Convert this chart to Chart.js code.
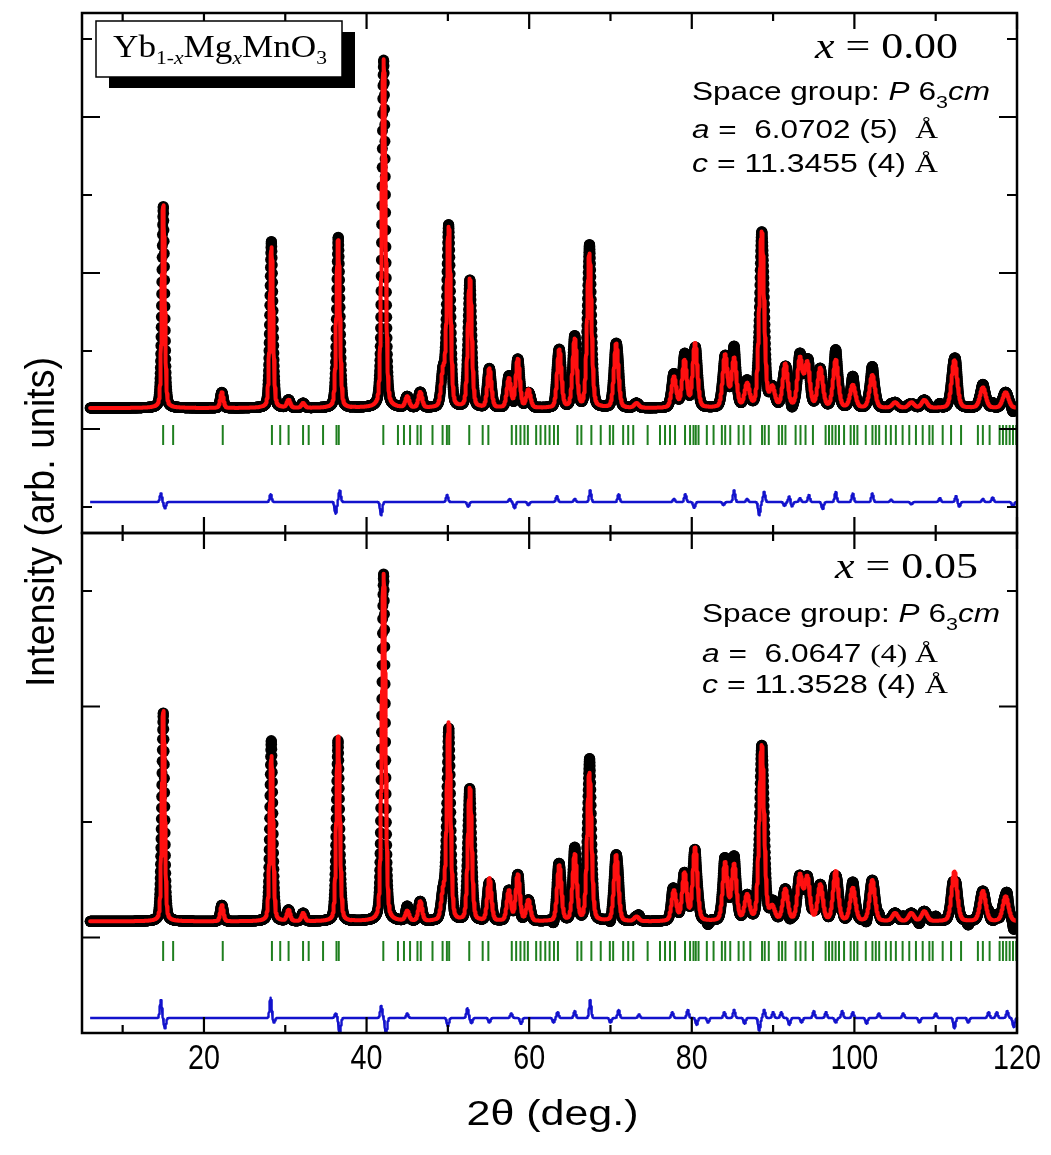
<!DOCTYPE html>
<html>
<head>
<meta charset="utf-8">
<title>Yb1-xMgxMnO3 Rietveld</title>
<script src="https://cdn.jsdelivr.net/npm/chart.js@4.4.1/dist/chart.umd.min.js"></script>
<style>
    html, body { margin: 0; padding: 0; background: #fff; }
    #wrap { position: relative; width: 1051px; height: 1155px; overflow: hidden; }
    #wrap canvas { position: absolute; left: 0; top: 0; }
</style>
</head>
<body>
<div id="wrap">
    <canvas id="panelTop" width="1051" height="1155"></canvas>
    <canvas id="panelBottom" width="1051" height="1155"></canvas>
</div>
<script>
// Reflections used by both patterns (2theta, deg.)
const peakPos = [15.0, 22.2, 28.3, 30.4, 32.2, 36.5, 42.1, 45.0, 46.6, 49.4, 50.1, 52.7, 55.1, 57.5,
    58.6, 59.9, 63.7, 65.6, 67.4, 70.7, 73.2, 77.8, 79.1, 80.4, 84.1, 85.2, 86.8, 88.6, 89.9, 91.5,
    93.3, 94.2, 95.8, 97.7, 99.8, 102.2, 105.0, 107.0, 108.6, 112.3, 115.8, 118.6];

// Peak heights above background, x = 0.00
const heightsTop = [2600, 200, 2060, 100, 60, 2150, 4470, 140, 200, 430, 2300, 1650, 500, 370,
    620, 230, 740, 870, 1970, 820, 60, 390, 600, 820, 670, 620, 290, 2250, 240, 550,
    620, 560, 500, 610, 290, 420, 70, 70, 100, 610, 260, 200];

// Peak heights above background, x = 0.05
const heightsBottom = [1820, 140, 1430, 95, 70, 1600, 3010, 85, 170, 220, 1710, 1150, 370, 260,
    400, 180, 480, 570, 1280, 570, 40, 260, 410, 630, 500, 480, 215, 1520, 110, 270,
    390, 370, 310, 430, 285, 355, 70, 70, 85, 430, 260, 215];

const backgroundTop = 1270;
const backgroundBottom = 1140;

// Obs - calc misfit features
const diffPosTop = [14.7, 15.2, 28.2, 36.2, 36.7, 41.8, 49.9, 52.5, 57.6, 58.2, 59.9, 63.4, 65.6, 67.5,
    71.0, 77.8, 79.2, 80.3, 83.9, 85.2, 86.8, 88.3, 88.9, 91.4, 92.0, 92.3, 93.3, 94.4, 96.1, 97.7,
    99.8, 102.2, 104.5, 107.0, 110.5, 112.5, 112.9, 115.8, 117.0, 119.5];
const diffAmpTop = [110, -80, 100, -150, 150, -170, 90, -60, 40, -80, -40, 75, 40, 150,
    100, 40, 100, -75, -40, 150, 40, -170, 130, -50, 75, -60, 50, 90, -90, 130,
    110, 110, 30, -30, 50, 75, -60, 40, 60, -60];

const diffPosBottom = [14.7, 15.2, 28.2, 28.6, 36.2, 36.7, 41.8, 42.4, 45.0, 50.0, 52.4, 52.9, 55.1, 57.8,
    59.0, 63.0, 63.5, 65.6, 67.5, 70.0, 71.0, 73.5, 77.6, 79.5, 80.6, 82.0, 84.0, 85.2, 86.5, 88.3,
    88.9, 90.0, 91.0, 92.0, 93.5, 95.0, 96.5, 97.7, 98.5, 99.8, 101.5, 103.0, 106.0, 108.0, 110.0,
    112.3, 114.0, 116.5, 117.5, 118.8, 119.6];
const diffAmpBottom = [155, -90, 175, -40, 40, -140, 105, -150, 40, -70, 85, -45, -40, 40,
    -50, -40, 50, 60, 155, -40, 70, 30, 50, 70, -60, -40, 50, 70, -50, -110,
    70, 50, 50, -60, -40, 60, 50, -40, 60, 50, -50, 40, 40, -40, 40,
    -90, -40, 50, 50, 60, -80];

// Bragg positions, P 6_3 cm
const braggPos = [14.98, 16.21, 22.31, 28.36, 29.38, 30.41, 32.19, 32.88, 34.65, 36.30, 36.58, 42.06,
    43.86, 44.60, 45.35, 46.26, 46.67, 48.11, 49.35, 49.88, 50.16, 52.63, 54.28, 54.98, 57.86, 58.40,
    58.93, 59.42, 59.84, 60.86, 61.40, 61.98, 62.51, 63.05, 63.54, 65.93, 66.42, 67.65, 68.80, 69.92,
    70.33, 71.56, 72.18, 72.80, 74.57, 76.09, 76.71, 77.32, 77.94, 79.17, 79.79, 80.21, 80.49, 80.83,
    81.85, 82.68, 83.70, 84.11, 84.73, 85.76, 86.38, 87.20, 88.64, 88.97, 89.47, 90.70, 91.11, 91.52,
    92.77, 93.37, 93.99, 94.90, 96.46, 96.88, 97.28, 97.69, 98.11, 98.73, 99.54, 99.96, 100.37, 101.40,
    102.22, 102.63, 103.05, 103.87, 104.48, 105.10, 105.93, 106.75, 107.57, 108.40, 109.22, 109.63,
    110.86, 111.89, 113.12, 115.19, 115.80, 116.63, 117.86, 118.27, 118.68, 119.10, 119.51, 119.91];

// Axis ticks
const xMajorTicks = [20, 40, 60, 80, 100, 120];
const xMinorTicks = [10, 30, 50, 70, 90, 110];
const yMajorTop = [1000, 3000, 5000];
const yMinorTop = [0, 2000, 4000, 6000];
const yMajorBottom = [1000, 3000];
const yMinorBottom = [2000, 4000];

const SERIF = '"Liberation Serif", "Times New Roman", serif';
const SANS = '"Liberation Sans", Arial, sans-serif';
const STEP = 0.02;

function pseudoVoigt(x, x0, fwhm) {
    const d = (x - x0) / fwhm;
    const g = Math.exp(-4 * Math.LN2 * d * d);
    const l = 1 / (1 + 4 * d * d);
    return 0.75 * g + 0.25 * l;
}

function fwhmAt(tt) {
    return 0.42 + 0.004 * (tt - 15);
}

function buildPattern(heights, background, dPos, dAmp, diffBase) {
    const calc = [], obs = [], diff = [];
    const n = Math.round((120 - 6) / STEP);
    for (let i = 0; i <= n; i++) {
        const tt = 6 + i * STEP;
        let yc = background;
        for (let k = 0; k < peakPos.length; k++) {
            if (Math.abs(tt - peakPos[k]) < 4) yc += heights[k] * pseudoVoigt(tt, peakPos[k], fwhmAt(peakPos[k]));
        }
        let dy = 0;
        for (let k = 0; k < dPos.length; k++) {
            const d = (tt - dPos[k]) / 0.3;
            dy += dAmp[k] * Math.exp(-4 * Math.LN2 * d * d);
        }
        calc.push({ x: tt, y: yc });
        obs.push({ x: tt, y: yc + dy });
        diff.push({ x: tt, y: diffBase + dy });
    }
    return { calc, obs, diff };
}

// Draws a run of differently styled pieces; o.width fits the run, o.scale squeezes it
function drawRuns(ctx, runs, x, y, o) {
    o = o || {};
    let natural = 0;
    runs.forEach(r => { ctx.font = r[1]; natural += ctx.measureText(r[0]).width; });
    const sx = o.width ? o.width / natural : (o.scale || 1);
    ctx.save();
    ctx.translate(x, y);
    ctx.scale(sx, 1);
    let cx = o.align === 'center' ? -natural / 2 : 0;
    runs.forEach(r => {
        ctx.font = r[1];
        ctx.fillText(r[0], cx, r[2] || 0);
        cx += ctx.measureText(r[0]).width;
    });
    ctx.restore();
}

const framePlugin = {
    id: 'frame',
    afterDraw(chart, args, opts) {
        const { ctx, chartArea: a } = chart;
        const xs = chart.scales.x, ys = chart.scales.y;
        ctx.save();
        ctx.strokeStyle = '#000';
        ctx.lineWidth = 2.5;
        ctx.strokeRect(a.left, a.top, a.right - a.left, a.bottom - a.top);

        ctx.lineWidth = 2.2;
        ctx.beginPath();
        const tickX = (v, len) => {
            const px = xs.getPixelForValue(v);
            ctx.moveTo(px, a.bottom); ctx.lineTo(px, a.bottom - len);
            ctx.moveTo(px, a.top); ctx.lineTo(px, a.top + len);
        };
        const tickY = (v, len) => {
            const py = ys.getPixelForValue(v);
            ctx.moveTo(a.left, py); ctx.lineTo(a.left + len, py);
            ctx.moveTo(a.right, py); ctx.lineTo(a.right - len, py);
        };
        xMajorTicks.forEach(v => tickX(v, 16));
        xMinorTicks.forEach(v => tickX(v, 8));
        opts.yMajor.forEach(v => tickY(v, 18));
        opts.yMinor.forEach(v => tickY(v, 10));
        ctx.stroke();

        ctx.fillStyle = '#000';
        ctx.textBaseline = 'alphabetic';

        if (opts.box) {
            const b = opts.box;
            ctx.fillRect(b.x + 13, b.y + 11, b.w, b.h);
            ctx.fillStyle = '#fff';
            ctx.fillRect(b.x, b.y, b.w, b.h);
            ctx.lineWidth = 1.5;
            ctx.strokeRect(b.x, b.y, b.w, b.h);
            ctx.fillStyle = '#000';
            drawRuns(ctx, [
                ['Yb', '31px ' + SERIF], ['1-', '19px ' + SERIF, 7], ['x', 'italic 19px ' + SERIF, 7],
                ['Mg', '31px ' + SERIF], ['x', 'italic 19px ' + SERIF, 7],
                ['MnO', '31px ' + SERIF], ['3', '19px ' + SERIF, 7]
            ], b.x + 17, b.y + 36, { width: 214 });
        }

        opts.notes.forEach(n => drawRuns(ctx, n.runs, n.x, n.y, { width: n.w }));

        if (opts.xLabels) {
            xMajorTicks.forEach(v => {
                drawRuns(ctx, [[String(v), '35px ' + SANS]], xs.getPixelForValue(v), a.bottom + 36,
                    { scale: 0.82, align: 'center' });
            });
            drawRuns(ctx, [['2\u03b8 (deg.)', '35px ' + SANS]], (a.left + a.right) / 2 + 3, a.bottom + 92,
                { width: 172, align: 'center' });
            ctx.save();
            ctx.translate(54, 522);
            ctx.rotate(-Math.PI / 2);
            drawRuns(ctx, [['Intensity (arb. units)', '40px ' + SANS]], 0, 0, { scale: 0.94, align: 'center' });
            ctx.restore();
        }
        ctx.restore();
    }
};

function spaceGroupRuns() {
    return [['Space group: ', '25px ' + SANS], ['P', 'italic 25px ' + SANS], [' 6', '25px ' + SANS],
        ['3', '17px ' + SANS, 8], ['cm', 'italic 25px ' + SANS]];
}

function makeChart(canvasId, pattern, yMin, yMax, braggY, padding, frameOpts) {
    const bragg = braggPos.map(p => ({ x: p, y: braggY }));
    return new Chart(document.getElementById(canvasId), {
        type: 'scatter',
        data: {
            datasets: [
                {
                    label: 'Calculated',
                    data: pattern.calc,
                    showLine: true,
                    borderColor: '#ff1010',
                    borderWidth: 4,
                    borderJoinStyle: 'round',
                    borderCapStyle: 'round',
                    pointRadius: 0,
                    order: 1
                },
                {
                    label: 'Observed',
                    data: pattern.obs,
                    showLine: false,
                    pointRadius: 5.5,
                    pointBackgroundColor: '#000',
                    pointBorderWidth: 0,
                    order: 2
                },
                {
                    label: 'Bragg',
                    data: bragg,
                    pointStyle: 'line',
                    rotation: 90,
                    pointRadius: 10,
                    pointBorderWidth: 2,
                    pointBorderColor: '#1f7f1f',
                    order: 3
                },
                {
                    label: 'Difference',
                    data: pattern.diff,
                    showLine: true,
                    borderColor: '#1212cc',
                    borderWidth: 2.4,
                    borderJoinStyle: 'round',
                    pointRadius: 0,
                    order: 4
                }
            ]
        },
        options: {
            responsive: false,
            animation: false,
            events: [],
            layout: { padding: padding },
            scales: {
                x: { type: 'linear', min: 5, max: 120, display: false },
                y: { type: 'linear', min: yMin, max: yMax, display: false }
            },
            plugins: {
                legend: { display: false },
                tooltip: { enabled: false },
                frame: frameOpts
            }
        },
        plugins: [framePlugin]
    });
}

const topPattern = buildPattern(heightsTop, backgroundTop, diffPosTop, diffAmpTop, 64);
const bottomPattern = buildPattern(heightsBottom, backgroundBottom, diffPosBottom, diffAmpBottom, 303);

makeChart('panelTop', topPattern, -333, 6333, 923,
    { left: 82, right: 34, top: 13, bottom: 622 },
    {
        yMajor: yMajorTop,
        yMinor: yMinorTop,
        box: { x: 96, y: 21, w: 246, h: 56 },
        notes: [
            { x: 815, y: 58, w: 143, runs: [['x', 'italic 36px ' + SERIF], [' = 0.00', '36px ' + SERIF]] },
            { x: 692, y: 100, w: 298, runs: spaceGroupRuns() },
            { x: 692, y: 138, w: 246, runs: [['a', 'italic 25px ' + SANS], [' =  6.0702 (5)  ', '25px ' + SANS], ['\u00c5', '25px ' + SERIF]] },
            { x: 692, y: 172, w: 246, runs: [['c', 'italic 25px ' + SANS], [' = 11.3455 (4) ', '25px ' + SANS], ['\u00c5', '25px ' + SERIF]] }
        ],
        xLabels: false
    });

// lower frame stops at 1033 px, so the y range starts just above zero
makeChart('panelBottom', bottomPattern, 173, 4502, 883,
    { left: 82, right: 34, top: 533, bottom: 122 },
    {
        yMajor: yMajorBottom,
        yMinor: yMinorBottom,
        box: null,
        notes: [
            { x: 835, y: 578, w: 143, runs: [['x', 'italic 36px ' + SERIF], [' = 0.05', '36px ' + SERIF]] },
            { x: 702, y: 622, w: 298, runs: spaceGroupRuns() },
            { x: 702, y: 662, w: 236, runs: [['a', 'italic 25px ' + SANS], [' =  6.0647 ', '25px ' + SANS], ['(4) \u00c5', '25px ' + SERIF]] },
            { x: 702, y: 693, w: 246, runs: [['c', 'italic 25px ' + SANS], [' = 11.3528 (4) ', '25px ' + SANS], ['\u00c5', '25px ' + SERIF]] }
        ],
        xLabels: true
    });
</script>
</body>
</html>
